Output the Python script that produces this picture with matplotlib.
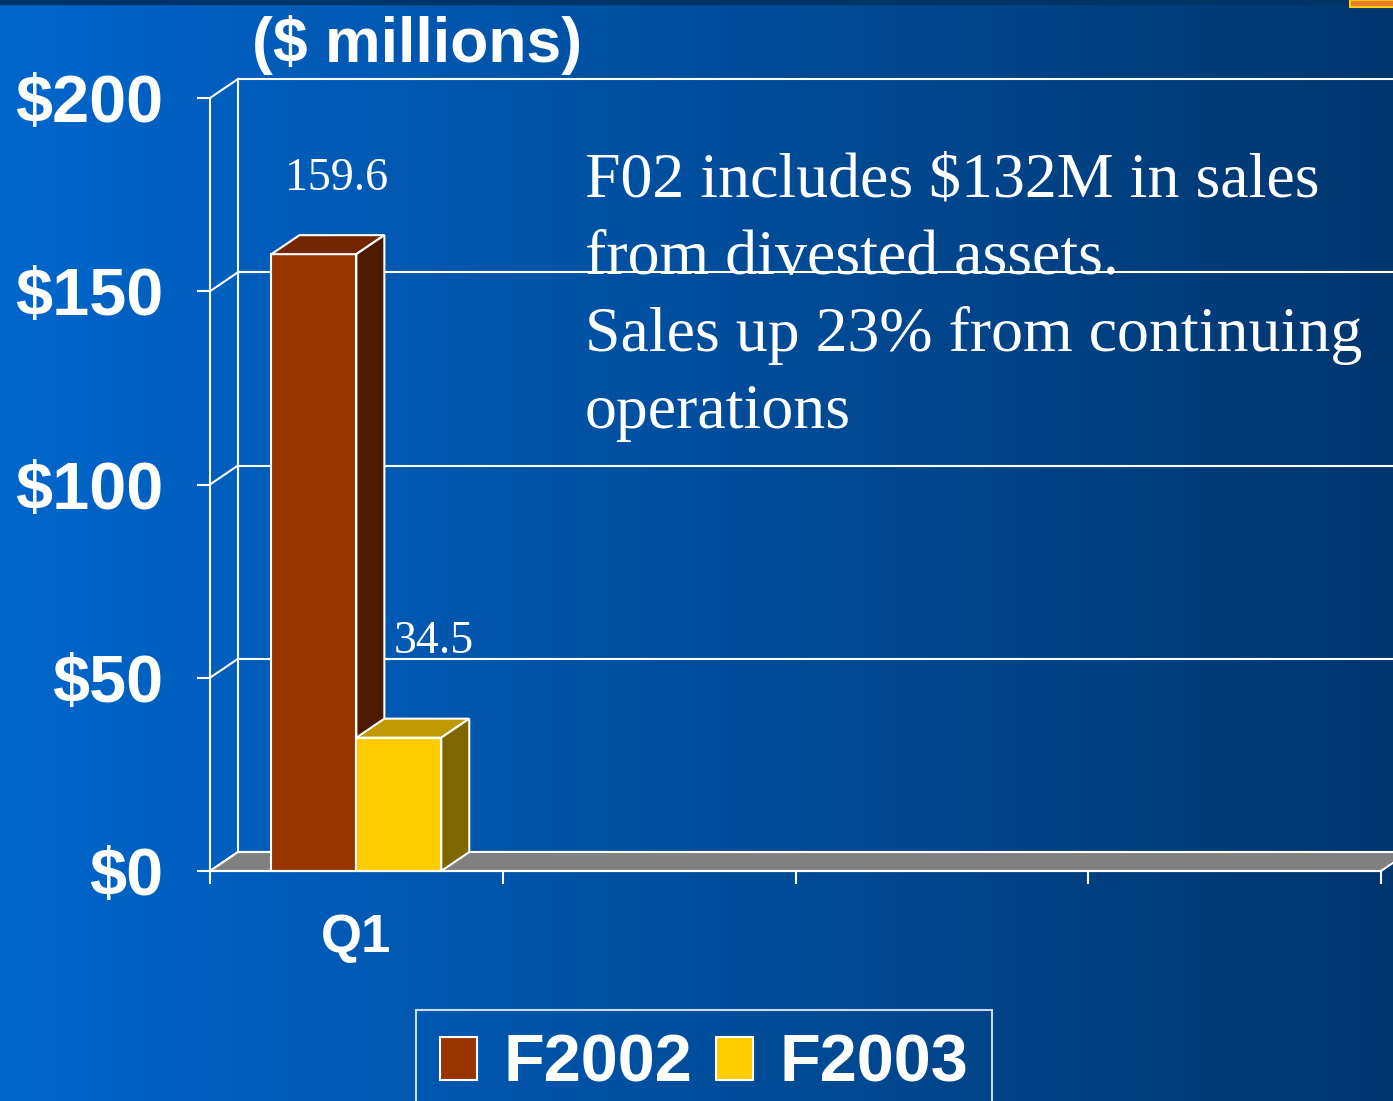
import numpy as np
import matplotlib
matplotlib.use('Agg')
import matplotlib.pyplot as plt
from matplotlib.patches import Polygon, Rectangle, Patch

# data
categories = ['Q1', '', '', '']
series = ['F2002', 'F2003']
values = [[159.6], [34.5]]
value_labels = ['159.6', '34.5']
ytick_vals = [0, 50, 100, 150, 200]
ytick_labels = ['$0', '$50', '$100', '$150', '$200']
note_lines = ['F02 includes $132M in sales',
              'from divested assets.',
              'Sales up 23% from continuing',
              'operations']

front_colors = ['#993300', '#FFCC00']
top_colors = ['#732600', '#BF9900']
side_colors = ['#4D1A00', '#806600']

W, H = 1393, 1101
fig = plt.figure(figsize=(W / 100, H / 100), dpi=100)

# background gradient
bg = fig.add_axes([0, 0, 1, 1], zorder=-10)
grad = np.linspace(0, 1, 256)
left = np.array([0, 102, 204]) / 255
right = np.array([0, 54, 110]) / 255
img = left[None, :] * (1 - grad[:, None]) + right[None, :] * grad[:, None]
bg.imshow(img[None, :, :], aspect='auto', extent=[0, 1, 0, 1])
bg.add_patch(Rectangle((0, 1 - 4 / H), 1, 4 / H, color='#003366'))
bg.add_patch(Rectangle((1350 / W, 1 - 7 / H), 45 / W, 7 / H, facecolor='#E87830',
                       edgecolor='#FFCC00', lw=1.5))
bg.set_xlim(0, 1)
bg.set_ylim(0, 1)
bg.axis('off')

sans = 'Liberation Sans'
serif = 'Liberation Serif'

ax = fig.add_axes([210 / W, (H - 871) / H, 1171 / W, 773 / H])
ax.patch.set_alpha(0)
ncat = len(categories)
ax.set_xlim(0, ncat)
ax.set_ylim(0, 200)

# depth of the 3d effect in data units
ddx = 28 / 1171 * ncat
ddy = 19 / 773 * 200

lw = 1.5
# back wall gridlines and side diagonals
for v in ytick_vals:
    ax.plot([ddx, ncat + ddx], [v + ddy, v + ddy], color='white', lw=lw, clip_on=False, zorder=0.5)
    ax.plot([0, ddx], [v, v + ddy], color='white', lw=lw, clip_on=False, zorder=0.5)
ax.plot([ddx, ddx], [ddy, 200 + ddy], color='white', lw=lw, clip_on=False, zorder=0.5)

# floor
floor = Polygon([(0, 0), (ncat, 0), (ncat + ddx, ddy), (ddx, ddy)], closed=True,
                facecolor='#808080', edgecolor='white', lw=lw, clip_on=False, zorder=1)
ax.add_patch(floor)

# bars
w = 0.29
for si, vals in enumerate(values):
    for ci, v in enumerate(vals):
        x0 = ci + 0.5 - w + si * w
        z = 2 + si
        ax.add_patch(Polygon([(x0, 0), (x0 + w, 0), (x0 + w, v), (x0, v)],
                             facecolor=front_colors[si], edgecolor='white', lw=lw,
                             clip_on=False, zorder=z))
        ax.add_patch(Polygon([(x0, v), (x0 + w, v), (x0 + w + ddx, v + ddy), (x0 + ddx, v + ddy)],
                             facecolor=top_colors[si], edgecolor='white', lw=lw,
                             clip_on=False, zorder=z))
        ax.add_patch(Polygon([(x0 + w, 0), (x0 + w + ddx, ddy), (x0 + w + ddx, v + ddy), (x0 + w, v)],
                             facecolor=side_colors[si], edgecolor='white', lw=lw,
                             clip_on=False, zorder=z))

# value labels
lbl_dx = [0.045, 0.129]
lbl_dy = [16.6, 21.9]
for si, vals in enumerate(values):
    x0 = 0.5 - w + si * w
    ax.text(x0 + lbl_dx[si], vals[0] + lbl_dy[si], value_labels[si], family=serif,
            fontsize=33, color='white', ha='left', va='baseline', zorder=6)

# note text
for i, line in enumerate(note_lines):
    ax.text(1.281, 174.4 - i * 19.9, line, family=serif, fontsize=46, color='white',
            ha='left', va='baseline', zorder=6)

# axes styling
for s in ['top', 'right']:
    ax.spines[s].set_visible(False)
for s in ['left', 'bottom']:
    ax.spines[s].set_color('white')
    ax.spines[s].set_linewidth(lw)
    ax.spines[s].set_zorder(5)
ax.set_yticks(ytick_vals)
ax.set_yticklabels(ytick_labels, family=sans, fontweight='bold', fontsize=48, color='white')
ax.set_xticks(range(ncat + 1))
ax.set_xticklabels([])
ax.set_xticks([i + 0.5 for i in range(ncat)], minor=True)
ax.set_xticklabels(categories, minor=True, family=sans, fontweight='bold', fontsize=38, color='white')
ax.tick_params(axis='both', which='major', colors='white', length=9.5, width=lw, direction='out')
ax.tick_params(axis='y', which='major', pad=24)
ax.tick_params(axis='x', which='minor', length=0, pad=30)

fig.text(252 / W, 1 - 62 / H, '($ millions)', family=sans, fontweight='bold', fontsize=45,
         color='white', ha='left', va='baseline')

handles = [Patch(facecolor=c, edgecolor='white', lw=1.5) for c in front_colors]
leg = fig.legend(handles, series, loc='upper left', bbox_to_anchor=(416 / W, 1 - 1010 / H),
                 ncol=2, frameon=True, fancybox=False, handlelength=0.55, handleheight=0.6,
                 handletextpad=0.4, columnspacing=0.36, borderpad=0.36, borderaxespad=0,
                 prop={'family': sans, 'weight': 'bold', 'size': 48})
leg.get_frame().set_facecolor('none')
leg.get_frame().set_edgecolor('white')
leg.get_frame().set_linewidth(1.5)
for t in leg.get_texts():
    t.set_color('white')

fig.savefig('out.png', dpi=100)
